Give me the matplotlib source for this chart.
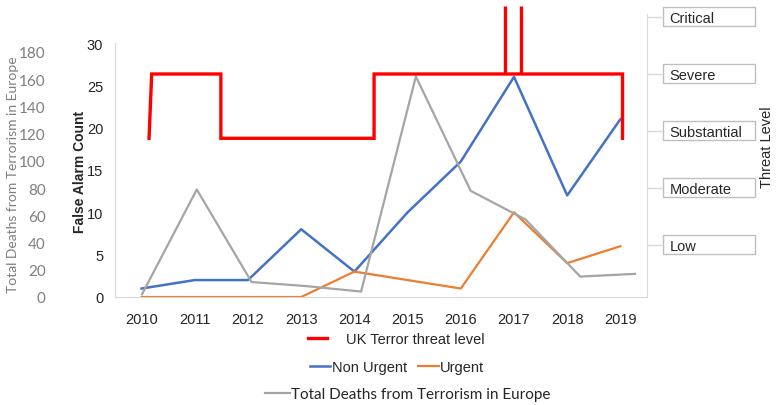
import matplotlib
matplotlib.use("Agg")
import matplotlib.pyplot as plt
import matplotlib.transforms as mtransforms
from matplotlib import font_manager
from matplotlib.patches import Rectangle

# data
years = [2010, 2011, 2012, 2013, 2014, 2015, 2016, 2017, 2018, 2019]
non_urgent = [1, 2, 2, 8, 3, 10, 16, 26, 12, 21]
urgent = [0, 0, 0, 0, 3, 2, 1, 10, 4, 6]
deaths = [2, 79, 11, 8, 4, 162, 78, 57, 15, 17]

threat_names = ["Low", "Moderate", "Substantial", "Severe", "Critical"]
threat_x = [2010.14, 2010.19, 2011.49, 2011.49, 2014.37, 2014.37, 2019.04, 2019.04]
threat_level = [3, 4, 4, 3, 3, 4, 4, 3]
critical_x = [2016.84, 2017.13]

names = {f.name for f in font_manager.fontManager.ttflist}
NARROW = "Liberation Sans Narrow" if "Liberation Sans Narrow" in names else "Liberation Sans"
WIDE = "Lato"
DARK = "#262626"
GREY_TXT = "#7f7f7f"
GRID = "#d9d9d9"

W, H = 776, 406


def rect(l, t, r, b):
    return [l / W, 1 - b / H, (r - l) / W, (b - t) / H]


fig = plt.figure(figsize=(W / 100, H / 100), dpi=100)

# false alarm counts
ax = fig.add_axes(rect(115, 44, 647, 298))
ln_nu, = ax.plot(years, non_urgent, color="#4472c4", lw=1.8)
ln_u, = ax.plot(years, urgent, color="#ed7d31", lw=1.6)
ax.set_xlim(2009.5, 2019.5)
ax.set_ylim(0, 30)
ax.set_xticks(years)
ax.set_yticks(range(0, 31, 5))
for s in ("top", "right"):
    ax.spines[s].set_visible(False)
for s in ("left", "bottom"):
    ax.spines[s].set_color(GRID)
ax.tick_params(axis="x", length=0, pad=10.5, labelsize=10.5, labelcolor=DARK)
ax.tick_params(axis="y", length=0, pad=8.5, labelsize=10.5, labelcolor=DARK)
for t in ax.get_xticklabels() + ax.get_yticklabels():
    t.set_fontfamily(NARROW)

# deaths, on its own scale
axd = fig.add_axes(rect(115, 44, 647, 298))
axd.patch.set_visible(False)
ln_d, = axd.plot(years, deaths, color="#a5a5a5", lw=1.6)
axd.set_xlim(2009.507, 2019.219)
axd.set_ylim(0, 186.6)
axd.set_yticks(range(0, 181, 20))
axd.set_xticks([])
for s in axd.spines.values():
    s.set_visible(False)
axd.tick_params(axis="y", length=0, pad=50, labelsize=11, labelcolor=GREY_TXT)
for t in axd.get_yticklabels():
    t.set_fontfamily(WIDE)

# UK threat level step line
axr = fig.add_axes(rect(115, 44, 647, 298))
axr.set_axis_off()
axr.set_xlim(2009.5, 2019.5)
axr.set_ylim(0.532, 4.482)
ln_r, = axr.plot(threat_x, threat_level, color="#ff0000", lw=2.4,
                 solid_joinstyle="miter", clip_on=False)
axr.vlines(critical_x, 4, 5.05, color="#ff0000", lw=2.4, clip_on=False)

# threat level axis with boxed labels
axt = fig.add_axes(rect(115, 15, 647, 298))
axt.patch.set_visible(False)
axt.set_ylim(0.084, 5.05)
axt.set_xticks([])
for s in ("top", "left", "bottom"):
    axt.spines[s].set_visible(False)
axt.spines["right"].set_color(GRID)
axt.yaxis.tick_right()
axt.set_yticks(range(1, len(threat_names) + 1))
axt.set_yticklabels(threat_names)
axt.tick_params(axis="y", length=10.8, width=1, color=GRID, pad=5.5,
                labelsize=10.5, labelcolor=DARK)
for t in axt.get_yticklabels():
    t.set_fontfamily(NARROW)
trans = mtransforms.blended_transform_factory(axt.transAxes, axt.transData)
for lvl in range(1, len(threat_names) + 1):
    axt.add_patch(Rectangle((1.03, lvl - 0.167), 0.173, 0.334, transform=trans,
                            facecolor="white", edgecolor="#bfbfbf", lw=1,
                            clip_on=False))

# axis titles
fig.text(80 / W, 1 - 172 / H, "False Alarm Count", rotation=90, ha="center",
         va="center", fontsize=10, fontweight="bold", color=DARK, family=NARROW)
fig.text(13 / W, 1 - 175 / H, "Total Deaths from Terrorism in Europe", rotation=90,
         ha="center", va="center", fontsize=10, color=GREY_TXT, family=WIDE)
fig.text(767 / W, 1 - 147 / H, "Threat Level", rotation=90, ha="center",
         va="center", fontsize=10.5, color=DARK, family=NARROW)

# legend rows
leg_kw = dict(loc="center", frameon=False, borderpad=0, borderaxespad=0)
fig.legend([ln_r], ["UK Terror threat level"], bbox_to_anchor=(396 / W, 1 - 340 / H),
           handlelength=1.3, handletextpad=1.3,
           prop={"family": NARROW, "size": 10.5}, labelcolor=DARK, **leg_kw)
fig.legend([ln_nu, ln_u], ["Non Urgent", "Urgent"], ncol=2,
           bbox_to_anchor=(397 / W, 1 - 368 / H), handlelength=1.4,
           handletextpad=0.1, columnspacing=0.8,
           prop={"family": NARROW, "size": 10.5}, labelcolor=DARK, **leg_kw)
fig.legend([ln_d], ["Total Deaths from Terrorism in Europe"],
           bbox_to_anchor=(408 / W, 1 - 395 / H), handlelength=1.6,
           handletextpad=0.1, prop={"family": WIDE, "size": 11},
           labelcolor=DARK, **leg_kw)

fig.savefig("out.png", dpi=100)
